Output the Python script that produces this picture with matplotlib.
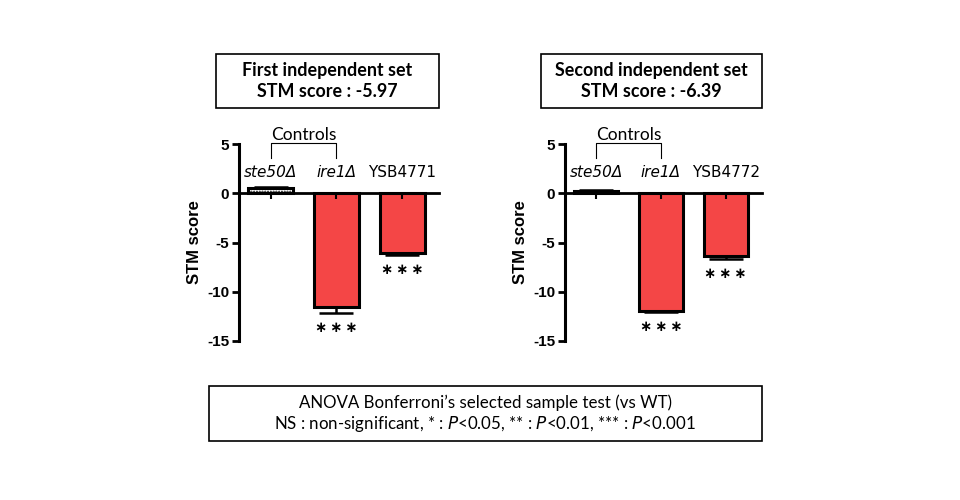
import numpy as np
import matplotlib.pyplot as plt
from matplotlib.patches import Rectangle

# ------------------------------------------
# Data
# ------------------------------------------

strains_1 = ["ste50Δ", "ire1Δ", "YSB4771"]
scores_1 = [0.5, -11.55, -6.05]
errors_1 = [0.1, 0.6, 0.2]

strains_2 = ["ste50Δ", "ire1Δ", "YSB4772"]
scores_2 = [0.22, -11.95, -6.4]
errors_2 = [0.08, 0.12, 0.3]

titles = ["First independent set\nSTM score : -5.97",
          "Second independent set\nSTM score : -6.39"]

stars = ["", "∗\u2009∗\u2009∗", "∗\u2009∗\u2009∗"]

RED = "#F44646"
W, H = 960, 500

fig = plt.figure(figsize=(9.6, 5), dpi=100)


def fx(px):
    return px / W


def fy(py):
    return 1 - py / H


def draw_panel(x0, width, strains, scores, errors, title, box):
    ax = fig.add_axes([fx(x0), fy(341), width / W, 197 / H])
    x = np.arange(len(scores))
    colors = ["white", RED, RED]
    hatches = ["......", None, None]
    for xi, s, e, c, h in zip(x, scores, errors, colors, hatches):
        ax.bar(xi, s, width=0.68, color=c, edgecolor="black",
               linewidth=2.2, hatch=h, zorder=2)
        lo, hi = (0, e) if s > 0 else (e, 0)
        ax.errorbar(xi, s, yerr=[[lo], [hi]], fmt="none", ecolor="black",
                    elinewidth=1.8, capsize=12, capthick=1.8, zorder=3)

    ax.set_xlim(-0.48, 2.56)
    ax.set_ylim(-15, 5)
    ax.set_axisbelow(False)
    ax.set_yticks([5, 0, -5, -10, -15])
    ax.set_yticklabels(["5", "0", "-5", "-10", "-15"], fontweight="bold",
                       fontsize=11, family="Liberation Sans")
    ax.set_xticks(x)
    ax.set_xticklabels([])
    ax.tick_params(axis="x", length=4, width=1.5, direction="out")
    ax.tick_params(axis="y", length=5, width=2, pad=2)
    ax.spines["top"].set_visible(False)
    ax.spines["right"].set_visible(False)
    ax.spines["bottom"].set_position(("data", 0))
    ax.spines["bottom"].set_linewidth(2)
    ax.spines["left"].set_linewidth(2.2)
    ax.set_ylabel("STM score", fontweight="bold", fontsize=12,
                  family="Liberation Sans", labelpad=4)
    ax.patch.set_alpha(0)

    # strain names above the bars
    for xi, name in enumerate(strains):
        style = "italic" if name.endswith("Δ") else "normal"
        ax.text(xi, 2.15, name, ha="center", va="center", fontsize=11,
                style=style)

    # significance stars
    for xi, s, e, st in zip(x, scores, errors, stars):
        if st:
            ax.text(xi, s - e - 1.45, st, ha="center", va="center",
                    fontsize=10.5, fontweight="bold")

    # Controls bracket
    ax.plot([0, 0, 1, 1], [3.6, 5.1, 5.1, 3.6], color="black", lw=0.8,
            clip_on=False)
    ax.text(0.5, 5.95, "Controls", ha="center", va="center", fontsize=12.5,
            family="Lato")

    # title box
    bx0, bx1 = box
    fig.patches.append(Rectangle((fx(bx0), fy(108)), (bx1 - bx0) / W,
                                 54 / H, transform=fig.transFigure,
                                 facecolor="white", edgecolor="black",
                                 linewidth=1.2))
    fig.text(fx((bx0 + bx1) / 2), fy(81), title, ha="center",
             va="center", fontsize=12.9, fontweight="bold", family="Lato",
             linespacing=1.35)


draw_panel(239, 200, strains_1, scores_1, errors_1, titles[0], (216, 439))
draw_panel(565, 197, strains_2, scores_2, errors_2, titles[1], (541, 762))

# ------------------------------------------
# Bottom note box
# ------------------------------------------

fig.patches.append(Rectangle((fx(209), fy(441)), 553 / W, 55 / H,
                             transform=fig.transFigure, facecolor="white",
                             edgecolor="black", linewidth=1.2))
fig.text(fx(485), fy(403),
         "ANOVA Bonferroni\u2019s selected sample test (vs WT)",
         ha="center", va="center", fontsize=12.2, family="Lato")
fig.text(fx(485), fy(424),
         "NS : non-significant, * : $P$<0.05, ** : $P$<0.01, *** : $P$<0.001",
         ha="center", va="center", fontsize=12.2, family="Lato")

fig.savefig("out.png", dpi=100)
